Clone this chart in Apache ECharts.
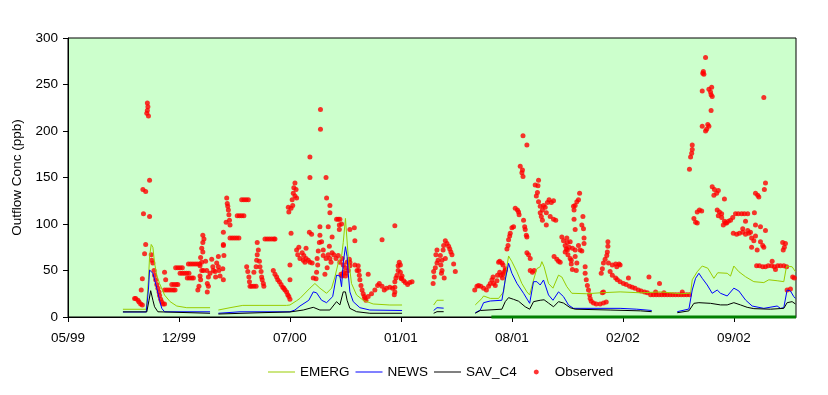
<!DOCTYPE html>
<html><head><meta charset="utf-8">
<script src="https://cdn.jsdelivr.net/npm/echarts@6/dist/echarts.min.js"></script>
<style>html,body{margin:0;padding:0;background:#fff}#c{width:828px;height:395px}</style>
</head><body><div id="c"></div>
<script>
// x values are days since the axis start (1999-05-30); '-' marks a gap in a modelled series
const axisStart = '1999-05-30';
const axisEndDay = 1312;
const tickDays = [0, 200, 400, 600, 800, 1000, 1200];
const tickLabels = ['05/99', '12/99', '07/00', '01/01', '08/01', '02/02', '09/02'];
const yTicks = [0, 50, 100, 150, 200, 250, 300];

const emerg = [
  [99,8.3],[141,8.3],[145,40],[147,65],[150,78],[153,75],[156,58],[160,45],[165,36],[174,23.6],[184,16.5],[196,11.8],[214,10],[256,10],[257,'-'],
  [271,7.5],[292,10],[315,12.5],[346,12.5],[394,12.5],[400,12.9],[412,17.5],[418,20],[436,31],[445,36],[454,31],[466,25.5],[475,31],[481,43],[487,58],[493,65],[496,80],[500,106],[505,65],[511,36],[520,23.7],[532,18],[550,14],[580,12.9],[602,12.9],[603,'-'],
  [659,12.9],[665,18],[677,18],[678,'-'],
  [734,13],[746,20],[749,22.6],[761,20],[776,20],[785,27],[790,50],[794,65.6],[800,59.5],[809,48.7],[818,36],[827,27],[832,23.7],[839,39.8],[845,52],[851,54],[854,59.5],[858,54],[866,36],[874,31],[884,45],[890,43],[899,32.6],[908,25.5],[935,25],[959,26],[995,27],[1032,26],[1068,27],[1104,25],[1122,25.5],[1125,40],[1134,48.7],[1143,54.8],[1153,52.5],[1164,41.6],[1171,47.6],[1188,47],[1194,44],[1200,54.8],[1209,48.7],[1221,43.3],[1236,38],[1254,37],[1263,40],[1278,39],[1290,38],[1295,54.8],[1305,54],[1311,48.7]
];
const news = [
  [99,5.4],[141,5.4],[145,30],[147,50.5],[153,47],[160,31],[165,18],[169,9.3],[174,5.6],[256,5.6],[257,'-'],
  [271,4],[310,5.6],[400,5.6],[409,7.5],[418,11.8],[434,18],[442,27],[448,26],[457,18],[466,15.4],[477,21.9],[484,45],[490,44],[493,32.6],[496,58],[500,75.6],[503,65],[505,47],[508,27],[514,16.5],[526,10],[544,7.5],[602,7],[603,'-'],
  [659,7],[665,10],[677,9.5],[678,'-'],
  [734,4.6],[743,7.5],[749,15.4],[761,17.2],[782,18],[788,39.8],[794,57.7],[800,47],[809,36.2],[821,25.5],[832,14.7],[839,38],[845,38],[851,34.4],[857,39.8],[866,23.7],[874,18],[884,27],[893,21.9],[902,12.9],[911,9.3],[995,9.3],[1025,8.4],[1052,7],[1053,'-'],
  [1098,5.7],[1119,8.6],[1125,29],[1131,41.6],[1137,47],[1143,41.6],[1152,34.4],[1161,25.5],[1170,29],[1176,25.5],[1188,22.6],[1200,31],[1209,28],[1221,18.3],[1233,11.8],[1254,9.3],[1278,11.8],[1284,9.3],[1290,10],[1296,29],[1302,28],[1308,21.9],[1311,20]
];
const savC4 = [
  [99,5.5],[142,5.5],[146,18],[149,28.3],[153,18],[156,11],[162,5.6],[165,4.3],[256,4],[257,'-'],
  [271,3.2],[346,4.6],[400,5.4],[424,7.5],[442,10.4],[454,7.5],[472,7.5],[484,16.5],[490,13],[496,27],[500,27],[503,18],[508,9.3],[520,5.7],[544,4],[602,4],[603,'-'],
  [659,4],[665,5.7],[677,5.7],[678,'-'],
  [734,4],[743,7],[782,8.4],[788,16.5],[794,20.8],[803,19],[812,17],[824,11],[832,8.4],[839,16.5],[851,18],[858,18.5],[866,15],[875,11],[884,16.5],[893,15],[905,10],[914,8.4],[977,7.5],[1032,6.6],[1052,5.7],[1053,'-'],
  [1098,4.6],[1119,6.6],[1128,14.7],[1137,15.4],[1158,14.7],[1176,13],[1188,13],[1200,15.4],[1212,13],[1224,10.4],[1236,9],[1266,8.4],[1290,9.3],[1296,15.4],[1305,16.5],[1311,14]
];
const baseBar = [[763,0],[1312,0]];
const observed = [
  [120,20],[122,20],[126,18],[128,16],[131,14],[134,13],[132,29],[134,41],[138,68],[140,78],[136,111],[147,108],
  [135,137],[140,135],[147,147],[143,230],[144,226],[143,222],[142,219],[145,216],
  [150,67],[153,58],[151,61],[155,50],[156,45],[158,40],[160,35],[162,31],[164,27],[165,23],[167,19],[169,16],[171,14],[174,14],
  [174,48],[176,40],[174,29],[178,29],[182,29],[186,29],[190,29],[193,29],
  [187,35],[191,35],[195,35],[198,35],[194,53],[198,53],[202,53],[206,53],
  [202,47],[206,47],[210,47],[214,47],[218,47],[215,42],[219,42],[223,42],[226,42],
  [217,57],[221,57],[225,57],[229,57],[233,57],[237,57],
  [243,88],[245,84],[243,80],[241,74],[243,70],[239,64],[241,59],[238,55],[241,50],[238,44],[239,40],[236,33],[234,29],
  [248,60],[244,50],[250,50],[253,43],[251,36],[253,33],[251,27],[256,47],[259,62],[261,54],[262,50],[265,49],[266,43],[268,58],
  [271,65],[271,54],[272,50],[274,44],[279,52],[280,40],[281,66],[280,77],[280,91],[286,128],[287,122],[288,119],[289,115],[290,110],[285,102],[291,104],[292,99],[280,78],
  [292,85],[296,85],[300,85],[304,85],[308,85],[305,109],[309,109],[313,109],[317,109],[313,126],[317,126],[321,126],[325,126],
  [322,54],[324,49],[326,43],[327,38],[328,33],[331,33],[335,33],[339,33],
  [335,48],[339,54],[340,61],[341,67],[343,72],[341,80],[345,60],[346,54],[348,49],[349,43],[350,40],[352,36],[353,33],
  [355,84],[359,84],[363,84],[367,84],[371,84],[373,84],
  [370,50],[373,46],[376,43],[378,40],[381,38],[384,35],[387,32],[389,31],[391,29],[394,27],[396,24],[398,22],[400,19],[400,40],[400,56],
  [402,90],[397,118],[398,113],[402,117],[404,126],[406,133],[407,139],[409,144],[411,137],[409,130],[412,128],[405,120],
  [412,72],[414,67],[416,75],[418,63],[422,69],[424,61],[427,59],[425,66],[429,63],[433,61],[436,59],[440,58],[429,74],
  [435,91],[439,89],[436,150],[436,172],[465,150],[455,223],[455,202],[466,128],
  [442,42],[447,41],[448,48],[450,56],[449,63],[451,71],[453,80],[454,88],[454,97],[457,81],[460,72],
  [460,66],[465,63],[469,67],[472,63],[476,69],[479,67],[483,63],[487,66],[474,59],[467,53],[463,46],
  [472,120],[472,112],[476,86],[471,76],[469,97],[484,105],[489,99],[487,105],[489,94],
  [490,59],[494,63],[496,56],[500,53],[501,47],[505,50],[508,55],[508,59],[503,59],[497,48],[494,44],[500,44],[492,46],
  [493,100],[490,105],[508,94],[516,96],[517,82],[507,62],[517,56],[521,50],[523,55],
  [524,50],[525,45],[526,40],[528,34],[530,29],[532,25],[534,22],[537,18],[541,46],
  [535,20],[541,22],[547,25],[553,29],[558,34],[561,36],[566,33],[570,29],[574,31],[580,32],[585,31],[589,27],[588,24],[589,32],
  [589,98],[566,83],[589,38],[591,42],[593,45],[595,50],[595,55],[597,59],[599,56],[599,48],[600,42],
  [601,41],[605,39],[608,37],[612,35],[616,37],[620,38],[602,44],
  [665,72],[663,67],[667,61],[665,58],[662,53],[659,49],[660,43],[658,36],[671,66],[674,61],[672,56],[674,50],[673,47],
  [676,72],[677,77],[680,82],[683,79],[686,76],[688,73],[690,70],[692,67],[695,57],[698,49],[680,63],[678,42],
  [733,29],[737,33],[740,34],[744,33],[749,31],[754,29],[758,33],[761,36],[764,40],[766,43],[767,36],[770,34],[773,39],[774,45],
  [778,48],[780,45],[784,46],[786,48],[778,60],[784,56],[788,50],[788,52],[782,58],[783,42],[776,59],
  [791,73],[793,77],[794,83],[796,87],[797,90],[800,96],[803,97],[806,117],[810,115],[812,113],[813,110],[821,104],
  [823,97],[824,94],[826,88],[827,86],[815,162],[819,158],[818,155],[820,151],[820,195],[827,185],
  [827,69],[830,67],[833,63],[833,50],[837,48],[840,50],[842,142],[846,134],[844,130],[848,147],[847,141],
  [848,124],[851,119],[855,115],[857,120],[860,118],[864,123],[867,126],[871,123],[875,125],[851,112],[853,108],[855,104],[862,112],
  [862,99],[869,108],[875,105],[879,104],[876,65],[881,62],[884,60],[887,59],
  [890,86],[893,82],[896,77],[900,80],[903,75],[898,73],[896,70],[901,67],[905,63],[907,61],[907,57],[909,51],
  [899,85],[900,72],[905,81],[909,74],[914,72],[914,65],[917,58],[916,50],
  [911,119],[912,115],[914,120],[922,133],[920,126],[917,124],[912,105],[914,94],
  [928,108],[926,99],[929,95],[930,85],[930,79],[926,71],[932,54],[920,77],[923,72],
  [932,47],[934,40],[936,34],[938,29],[940,24],[941,20],[943,17],[947,15],[952,14],[959,14],[965,15],[970,16],[963,26],[965,27],
  [961,47],[963,52],[965,58],[968,62],[971,66],[972,70],[973,76],[973,81],
  [974,58],[981,56],[987,57],[993,57],[995,56],[989,54],[977,49],[981,45],[987,42],
  [990,40],[995,38],[1001,36],[1006,35],[1012,33],[1017,32],[1022,31],[1028,29],[1033,28],[1039,27],[1044,26],[1050,24],
  [1010,42],[1047,43],[1059,27],[1066,36],
  [1055,24],[1060,24],[1065,24],[1070,24],[1075,24],[1080,24],[1085,24],[1090,24],[1095,24],[1100,24],[1105,24],[1110,24],[1115,24],[1120,24],
  [1074,26],[1107,27],
  [1120,159],[1122,172],[1124,176],[1125,180],[1125,185],[1143,205],[1149,200],[1151,202],[1153,207],[1155,205],[1159,222],
  [1143,243],[1155,245],[1158,242],[1159,239],[1161,237],[1160,247],[1145,264],[1146,261],[1144,262],[1149,279],[1254,236],
  [1161,140],[1165,137],[1164,131],[1169,133],[1172,136],[1183,127],
  [1128,106],[1131,102],[1134,101],[1134,113],[1138,115],[1142,114],
  [1170,115],[1174,113],[1178,111],[1172,109],[1178,107],[1183,103],[1187,101],[1190,103],[1194,104],[1181,99],[1198,107],[1185,101],
  [1199,90],[1205,89],[1210,90],[1216,91],[1221,89],[1216,95],
  [1203,111],[1208,111],[1214,111],[1219,111],[1225,111],[1221,103],[1225,93],[1230,91],[1227,90],
  [1237,112],[1239,99],[1248,97],[1232,85],[1236,82],[1239,87],[1232,75],[1242,72],[1248,81],[1252,77],[1254,75],[1257,93],
  [1239,133],[1243,131],[1245,129],[1255,137],[1257,144],
  [1288,80],[1293,79],[1291,75],[1289,72],
  [1241,55],[1246,55],[1252,54],[1257,54],[1262,55],[1268,55],[1273,54],[1279,55],[1284,55],[1290,55],[1295,54],[1269,60],[1275,51],
  [1306,43],[1309,42],[1296,29],[1302,30]
];

const FONT = 'Liberation Sans, Arial, sans-serif';
// legend icons: the leading moves fix the icon box to 27x14 so the mark keeps its size
const lineIcon = 'path://M0,0M27,14M0,6.5H27V7.5H0Z';
const dotIcon = 'path://M0,0M27,14M16.1,7L15.34,8.84L13.5,9.6L11.66,8.84L10.9,7L11.66,5.16L13.5,4.4L15.34,5.16Z';

const chart = echarts.init(document.getElementById('c'), null, {renderer: 'canvas'});
chart.setOption({
  animation: false,
  backgroundColor: '#ffffff',
  textStyle: {fontFamily: FONT},
  grid: {left: 68, right: 32, top: 38, bottom: 78, show: true, backgroundColor: '#CCFFCC', borderColor: '#000', borderWidth: 1},
  legend: {
    data: [{name: 'EMERG', icon: lineIcon}, {name: 'NEWS', icon: lineIcon}, {name: 'SAV_C4', icon: lineIcon}, {name: 'Observed', icon: dotIcon}],
    left: 268, top: 365, padding: 0, itemWidth: 27, itemHeight: 14, itemGap: 6, symbolKeepAspect: true,
    itemStyle: {borderWidth: 0},
    textStyle: {fontSize: 13.5, color: '#000', fontFamily: FONT}
  },
  xAxis: {
    type: 'value', min: 0, max: axisEndDay,
    axisLine: {onZero: false, lineStyle: {color: '#000', width: 1}},
    axisTick: {show: true, length: 5, lineStyle: {color: '#000'}, customValues: tickDays},
    axisLabel: {customValues: tickDays, formatter: v => { const i = tickDays.indexOf(v); return i >= 0 ? tickLabels[i] : ''; },
      fontSize: 13.5, color: '#000', margin: 14, fontFamily: FONT},
    splitLine: {show: false}
  },
  yAxis: {
    type: 'value', min: 0, max: 300, interval: 50,
    name: 'Outflow Conc (ppb)', nameLocation: 'middle', nameRotate: 90, nameGap: 39,
    nameTextStyle: {fontSize: 13.5, color: '#000', fontFamily: FONT},
    axisLine: {show: true, lineStyle: {color: '#000', width: 1}},
    axisTick: {show: true, length: 5, lineStyle: {color: '#000'}},
    axisLabel: {fontSize: 13.5, color: '#000', margin: 10, fontFamily: FONT,
      formatter: v => yTicks.includes(v) ? String(v) : ''},
    splitLine: {show: false}
  },
  series: [
    {name: 'EMERG', type: 'line', data: emerg, symbol: 'none', connectNulls: false, lineStyle: {color: '#99CC00', width: 1}, itemStyle: {color: '#99CC00'}},
    {name: 'NEWS', type: 'line', data: news, symbol: 'none', connectNulls: false, lineStyle: {color: '#0000FF', width: 1}, itemStyle: {color: '#0000FF'}},
    {name: 'SAV_C4', type: 'line', data: savC4, symbol: 'none', connectNulls: false, lineStyle: {color: '#000000', width: 1}, itemStyle: {color: '#000000'}},
    {name: 'Observed', type: 'scatter', data: observed, symbol: 'circle', symbolSize: 5, itemStyle: {color: '#FF0000'}},
    {name: 'base', type: 'line', data: baseBar, symbol: 'none', clip: false, z: 5, lineStyle: {color: '#008000', width: 3}}
  ]
});
</script>
</body></html>
